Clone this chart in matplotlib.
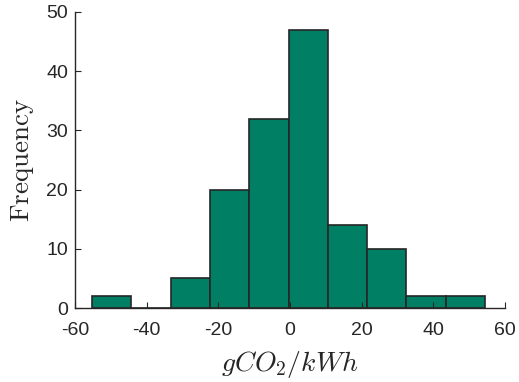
import matplotlib
matplotlib.use("Agg")
import matplotlib.pyplot as plt
import numpy as np

bin_edges = [-55.26, -44.29, -33.32, -22.35, -11.38, -0.41, 10.56, 21.53, 32.50, 43.47, 54.44]
counts = [2, 0, 5, 20, 32, 47, 14, 10, 2, 2]
xticks = [-60, -40, -20, 0, 20, 40, 60]
yticks = [0, 10, 20, 30, 40, 50]

plt.rcParams['mathtext.fontset'] = 'cm'
plt.rcParams['axes.unicode_minus'] = False
plt.rcParams['font.family'] = ['Liberation Sans', 'DejaVu Sans']

fig = plt.figure(figsize=(5.19, 3.82), dpi=100)
ax = fig.add_axes([0.1445, 0.1937, 0.8285, 0.7749])

edges = np.array(bin_edges)
centers = (edges[:-1] + edges[1:]) / 2
ax.hist(centers, bins=edges, weights=counts, color='#007f65', edgecolor='#262626', linewidth=1.2)

ax.set_xlim(-60, 60)
ax.set_ylim(0, 50)
ax.set_xticks(xticks)
ax.set_yticks(yticks)
ax.spines['top'].set_visible(False)
ax.spines['right'].set_visible(False)
for s in ['left', 'bottom']:
    ax.spines[s].set_color('#262626')
    ax.spines[s].set_linewidth(1.0)
ax.tick_params(direction='in', length=4, width=0.8, colors='#262626', labelsize=14, labelcolor='#262626')
ax.tick_params(axis='x', pad=10)
ax.tick_params(axis='y', pad=5)
ax.set_xlabel(r'$gCO_2/kWh$', fontsize=20, color='#262626', labelpad=7)
ax.set_ylabel(r'$\mathrm{Frequency}$', fontsize=19.5, color='#262626', labelpad=7)

fig.savefig('out.png', dpi=100)
